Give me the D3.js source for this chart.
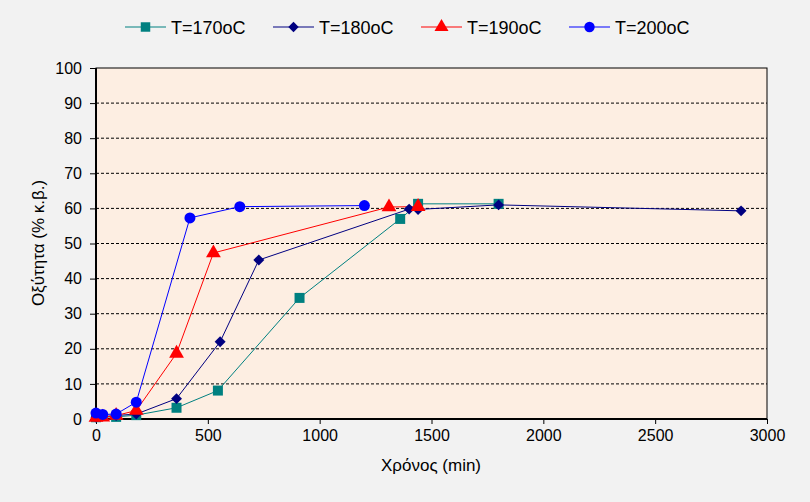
<!DOCTYPE html>
<html><head><meta charset="utf-8">
<script src="https://cdn.jsdelivr.net/npm/d3@7"></script>
<style>body{margin:0;background:#F2F2F2;}svg{display:block;font-family:Arial,"Liberation Sans",sans-serif;}</style>
</head><body>
<svg id="c" width="810" height="502"></svg>
<script>
const seriesNames = ["T=170oC","T=180oC","T=190oC","T=200oC"];
const t170x = [0, 90, 180, 360, 545, 910, 1360, 1440, 1800];
const t170y = [0.5, 0.6, 1.1, 3.2, 8.1, 34.5, 57.0, 61.3, 61.3];
const t180x = [0, 90, 180, 360, 555, 728, 1400, 1440, 1800, 2884];
const t180y = [0.5, 1.0, 1.4, 5.8, 22.0, 45.3, 59.8, 59.7, 61.0, 59.3];
const t190x = [0, 30, 90, 180, 360, 525, 1310, 1440];
const t190y = [0.4, 0.5, 1.0, 2.4, 18.7, 47.3, 60.4, 60.5];
const t200x = [0, 30, 90, 180, 420, 643, 1200];
const t200y = [1.7, 1.3, 1.4, 4.8, 57.3, 60.5, 60.8];
const xTicks = [0,500,1000,1500,2000,2500,3000];
const yTicks = [0,10,20,30,40,50,60,70,80,90,100];
const colors = ["#008080","#000080","#FF0000","#0000FF"];
const squareDiamond = {draw(ctx, size){ const r=Math.sqrt(size/2); ctx.moveTo(0,-r); ctx.lineTo(r,0); ctx.lineTo(0,r); ctx.lineTo(-r,0); ctx.closePath(); }};
const shapes = [d3.symbolSquare, squareDiamond, d3.symbolTriangle, d3.symbolCircle];
const sizes = [100, 60, 95, 95];

const data = [[t170x,t170y],[t180x,t180y],[t190x,t190y],[t200x,t200y]].map(([xs,ys])=>xs.map((x,i)=>({x,y:ys[i]})));

const svg = d3.select("#c");
const L=96,R=767,T=68,B=419;
const x = d3.scaleLinear().domain([0,3000]).range([L,R]);
const y = d3.scaleLinear().domain([0,100]).range([B,T]);

svg.append("rect").attr("x",L).attr("y",T).attr("width",R-L).attr("height",B-T).attr("fill","#FDEEE2").attr("stroke","#000").attr("stroke-width",1);
svg.append("g").selectAll("line").data(yTicks.filter(v=>v>0&&v<100)).join("line")
  .attr("x1",L).attr("x2",R).attr("y1",d=>y(d)).attr("y2",d=>y(d))
  .attr("stroke","#000").attr("stroke-width",1).attr("stroke-dasharray","3,2");

const gx = svg.append("g").attr("transform",`translate(0,${B})`).call(d3.axisBottom(x).tickValues(xTicks).tickSize(5).tickPadding(6).tickFormat(d3.format("d")));
const gy = svg.append("g").attr("transform",`translate(${L},0)`).call(d3.axisLeft(y).tickValues(yTicks).tickSize(6).tickPadding(8).tickFormat(d3.format("d")));
[gx,gy].forEach(g=>{
  g.select(".domain").attr("stroke","#000").attr("stroke-width",2);
  g.selectAll(".tick line").attr("stroke","#000");
  g.selectAll(".tick text").attr("fill","#000").attr("font-size","16px").attr("font-family","Arial,'Liberation Sans',sans-serif");
});
gx.select(".domain").attr("d",`M${L},0H${R}`);
gy.select(".domain").attr("d",`M0,${B}V${T}`);

const line = d3.line().x(d=>x(d.x)).y(d=>y(d.y));
data.forEach((s,i)=>{
  svg.append("path").datum(s).attr("d",line).attr("fill","none").attr("stroke",colors[i]).attr("stroke-width",1);
});
data.forEach((s,i)=>{
  svg.append("g").selectAll("path").data(s).join("path")
    .attr("transform",d=>`translate(${x(d.x)},${y(d.y)})`)
    .attr("d",d3.symbol().type(shapes[i]).size(sizes[i]))
    .attr("fill",colors[i]);
});

svg.append("text").attr("x",431).attr("y",471).attr("text-anchor","middle").attr("font-size","17px").text("Χρόνος (min)");
svg.append("text").attr("transform","translate(44,243) rotate(-90)").attr("text-anchor","middle").attr("font-size","17px").text("Οξύτητα (% κ.β.)");

const legX = [125,273,421,569];
seriesNames.forEach((n,i)=>{
  const g = svg.append("g").attr("transform",`translate(${legX[i]},27)`);
  g.append("line").attr("x1",0).attr("x2",41).attr("stroke",colors[i]).attr("stroke-width",1);
  g.append("path").attr("transform","translate(20.5,0)").attr("d",d3.symbol().type(shapes[i]).size(sizes[i]*0.9)).attr("fill",colors[i]);
  g.append("text").attr("x",46).attr("y",6.5).attr("font-size","18px").text(n);
});
</script>
</body></html>
